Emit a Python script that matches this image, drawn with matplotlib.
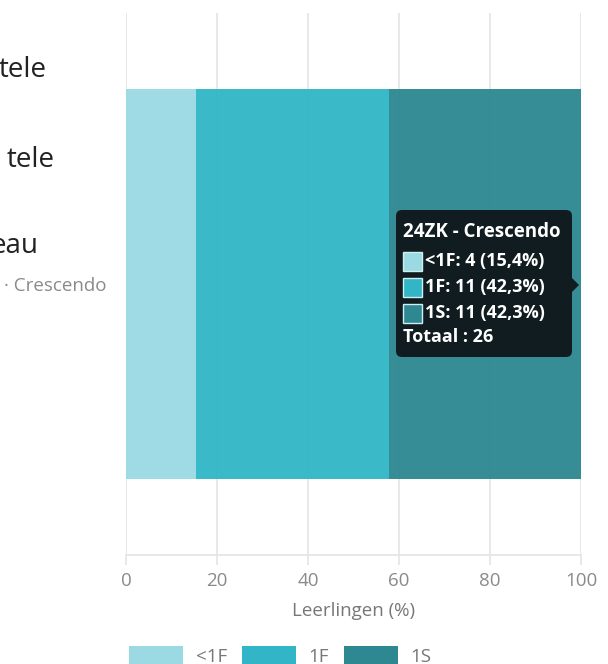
import matplotlib
matplotlib.use('Agg')
import matplotlib.pyplot as plt
from matplotlib.patches import FancyBboxPatch, Polygon, Rectangle, Patch
import numpy as np

plt.rcParams['font.family'] = ['Open Sans', 'DejaVu Sans']

# data
categories = ['24ZK - Crescendo']
tick_labels = ['· Crescendo']
levels = ['<1F', '1F', '1S']
counts = [4, 11, 11]
colors = ['#9BDAE3', '#32B6C7', '#2E8891']
x_ticks = [0, 20, 40, 60, 80, 100]
xlabel = 'Leerlingen (%)'
heading_bits = ['tele', 'tele', 'eau']

W, H = 608, 664
total = sum(counts)
pcts = np.array(counts) / total * 100


def fx(px):
    return px / W


def fy(py):
    return 1 - py / H


fig = plt.figure(figsize=(W / 100, H / 100), dpi=100)
ax = fig.add_axes([fx(126), fy(555), (581 - 126) / W, (555 - 13) / H])

left = 0
for lvl, pct, col in zip(levels, pcts, colors):
    ax.barh(0, pct, left=left, height=0.72, color=col, alpha=0.96, label=lvl, zorder=2)
    left += pct

ax.set_xlim(0, 100)
ax.set_ylim(-0.5, 0.5)
ax.set_xticks(x_ticks)
ax.set_yticks([0], labels=tick_labels)
ax.grid(axis='x', color='#e6e6e6', lw=1.3, zorder=0)
ax.set_axisbelow(True)
for s in ['top', 'right', 'left']:
    ax.spines[s].set_visible(False)
ax.spines['bottom'].set_color('#e6e6e6')
ax.spines['bottom'].set_linewidth(1.3)
ax.tick_params(axis='x', length=7, color='#e6e6e6', width=1.3, labelsize=13.5,
               labelcolor='#8a8a8a', pad=5)
ax.tick_params(axis='y', length=0, pad=14, labelsize=13.5, labelcolor='#8a8a8a')
ax.set_xlabel(xlabel, fontsize=13.5, color='#777777', labelpad=9)

# cut-off heading text on the left
for txt, xr, yb in zip(heading_bits, [47, 55, 38], [77, 167, 253]):
    fig.text(fx(xr), fy(yb), txt, ha='right', va='baseline', fontsize=20, color='#222222')

# legend
handles = [Patch(facecolor=c, label=l) for c, l in zip(colors, levels)]
fig.legend(handles=handles, loc='upper left', bbox_to_anchor=(fx(129), fy(646)), ncol=3,
           frameon=False, fontsize=13.5, handlelength=2.9, handleheight=1.2,
           handletextpad=0.65, columnspacing=0.8, borderpad=0, borderaxespad=0,
           labelcolor='#777777')

# tooltip overlay in pixel coords
ov = fig.add_axes([0, 0, 1, 1])
ov.set_xlim(0, W)
ov.set_ylim(H, 0)
ov.axis('off')

box = FancyBboxPatch((396, 210), 176, 147, boxstyle='round,pad=0,rounding_size=6',
                     facecolor='#0e1416', edgecolor='none', alpha=0.93)
ov.add_patch(box)
ov.add_patch(Polygon([(572, 278), (579, 285), (572, 292)], closed=True,
                     facecolor='#0e1416', edgecolor='none', alpha=0.93))

ov.text(403, 232, categories[0], color='white', fontsize=13.5, fontweight='bold', va='center')
for i, (lvl, n, p, col) in enumerate(zip(levels, counts, pcts, colors)):
    yc = 261 + i * 26
    ov.add_patch(Rectangle((403, yc - 9.5), 19, 19, facecolor=col, edgecolor='#cfeef2', lw=1))
    lab = '{}: {} ({}%)'.format(lvl, n, '{:.1f}'.format(p).replace('.', ','))
    ov.text(425, yc, lab, color='white', fontsize=13, fontweight='bold', va='center')
ov.text(403, 337, 'Totaal : {}'.format(total), color='white', fontsize=13,
        fontweight='bold', va='center')

fig.savefig('out.png', dpi=100)
